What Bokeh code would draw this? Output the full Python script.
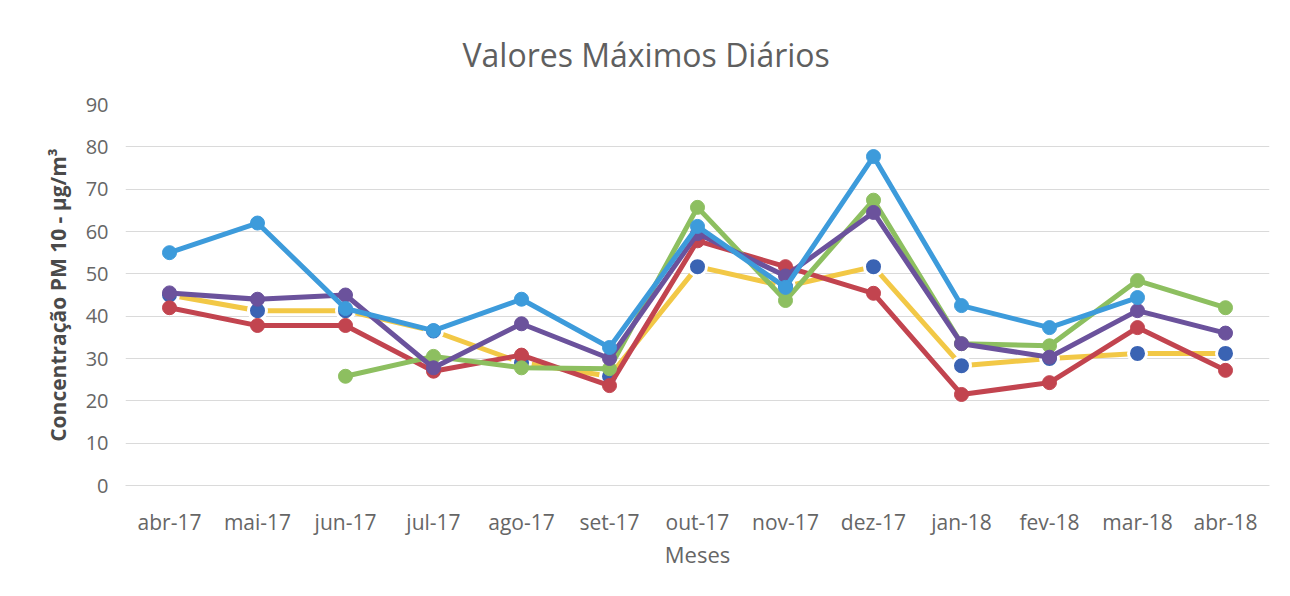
import math
from bokeh.plotting import figure
from bokeh.models import Title
from bokeh.embed import file_html
from bokeh.resources import INLINE

NaN = float("nan")

months = ["abr-17", "mai-17", "jun-17", "jul-17", "ago-17", "set-17", "out-17",
          "nov-17", "dez-17", "jan-18", "fev-18", "mar-18", "abr-18"]

serie_amarela = [45, 41.3, 41.3, 36.5, 29, 25.8, 51.7, 47, 51.7, 28.3, 30, 31.2, 31.2]
serie_vermelha = [42, 37.8, 37.8, 27, 30.8, 23.6, 57.8, 51.7, 45.4, 21.5, 24.3, 37.3, 27.2]
serie_verde = [NaN, NaN, 25.8, 30.5, 27.8, 27.6, 65.7, 43.7, 67.4, 33.5, 33, 48.4, 42]
serie_roxa = [45.5, 44, 45, 27.8, 38.2, 30, 59.5, 49.5, 64.5, 33.5, 30.3, 41.3, 36]
serie_azul = [55, 62, 41.8, 36.6, 44, 32.6, 61.2, 46.8, 77.7, 42.5, 37.3, 44.4, NaN]

y_ticks = [0, 10, 20, 30, 40, 50, 60, 70, 80, 90]

FONT = "Open Sans"

p = figure(x_range=months, y_range=(0, 90), width=1274, height=580,
           output_backend="svg", toolbar_location=None,
           min_border_left=125, min_border_right=5,
           min_border_top=104, min_border_bottom=95)
p.x_range.range_padding = 0
p.outline_line_color = None
p.background_fill_color = "white"
p.border_fill_color = "white"

p.add_layout(Title(text="Valores Máximos Diários", align="left", offset=337,
                   text_font=FONT, text_font_size="32px", text_font_style="normal",
                   text_color="#5f5f5f", standoff=57), "above")

p.xgrid.grid_line_color = None
p.ygrid.grid_line_color = "#dadada"
p.ygrid.grid_line_width = 1
p.yaxis.ticker = y_ticks

for ax in (p.xaxis, p.yaxis):
    ax.major_tick_line_color = None
    ax.minor_tick_line_color = None
    ax.major_label_text_font = FONT
    ax.major_label_text_color = "#666666"
    ax.axis_label_text_font = FONT
p.xaxis.major_label_text_font_size = "21px"
p.yaxis.major_label_text_font_size = "20px"
p.yaxis.axis_line_color = None
p.xaxis.axis_line_color = "#dadada"
p.xaxis.major_label_standoff = 16
p.yaxis.major_label_standoff = 11

p.xaxis.axis_label = "Meses"
p.xaxis.axis_label_text_font_size = "22px"
p.xaxis.axis_label_text_font_style = "normal"
p.xaxis.axis_label_text_color = "#666666"
p.xaxis.axis_label_standoff = 0

p.yaxis.axis_label = "Concentração PM 10 - µg/m³"
p.yaxis.axis_label_text_font_size = "21px"
p.yaxis.axis_label_text_font_style = "bold"
p.yaxis.axis_label_text_color = "#4a4a4a"
p.yaxis.axis_label_standoff = 11

# yellow line with dark-blue markers
p.line(months, serie_amarela, line_color="#f2c846", line_width=5)
p.scatter(months, serie_amarela, size=18, fill_color="#3a63b3",
          line_color="white", line_width=3)

series = [
    (serie_vermelha, "#c2444f"),
    (serie_verde, "#8dbf60"),
    (serie_roxa, "#6b529c"),
    (serie_azul, "#3d9bdb"),
]
for vals, col in series:
    p.line(months, vals, line_color=col, line_width=5)
    xs = [m for m, v in zip(months, vals) if not math.isnan(v)]
    ys = [v for v in vals if not math.isnan(v)]
    p.scatter(xs, ys, size=14, fill_color=col, line_color=col)

open("out.html", "w").write(file_html(p, INLINE))
